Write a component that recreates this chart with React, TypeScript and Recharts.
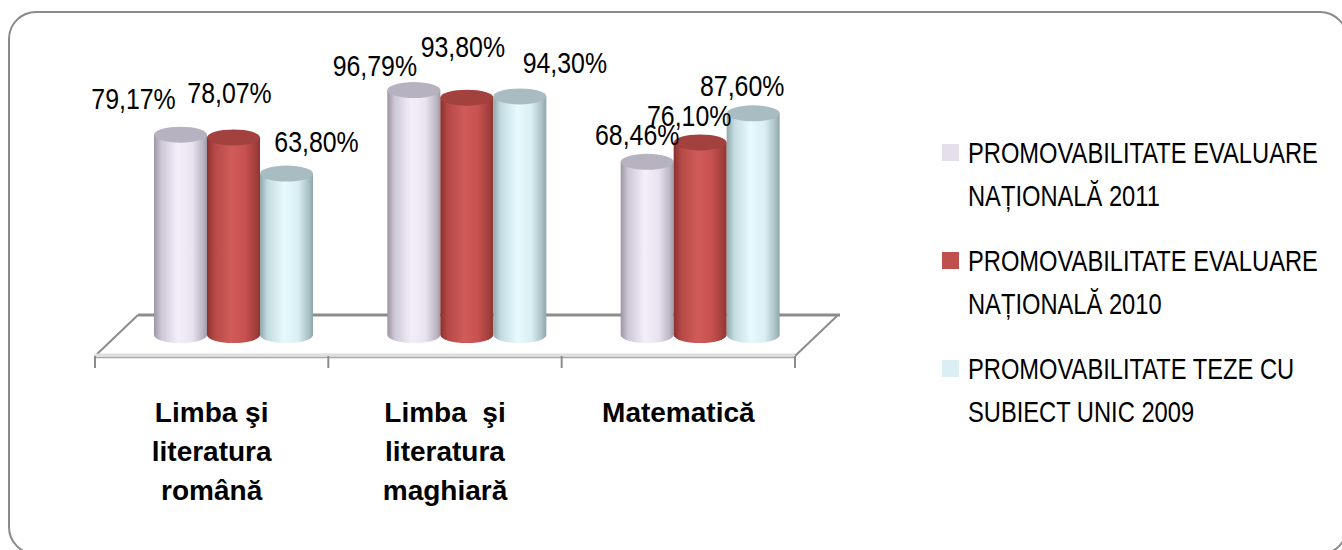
import React from 'react';
import { BarChart, Bar, XAxis, YAxis, LabelList, Legend } from 'recharts';

const categories = ['Limba şi\nliteratura\nromână', 'Limba  şi\nliteratura\nmaghiară', 'Matematică'];
const en2011 = [79.17, 96.79, 68.46];
const en2010 = [78.07, 93.8, 76.1];
const teze2009 = [63.8, 94.3, 87.6];
const seriesNames = [
  'PROMOVABILITATE EVALUARE\nNAȚIONALĂ 2011',
  'PROMOVABILITATE EVALUARE\nNAȚIONALĂ 2010',
  'PROMOVABILITATE TEZE CU\nSUBIECT UNIC 2009',
];

const data = categories.map((name, i) => ({
  name,
  s0: en2011[i],
  s1: en2010[i],
  s2: teze2009[i],
}));

// layout
const W = 1342;
const H = 550;
const PLOT_LEFT = 95;
const PLOT_RIGHT = 795;
const PLOT_TOP = 82;
const PLOT_BOTTOM = 335;
const AXIS_H = 30;
const LEGEND_W = 400;
const DEPTH_SHIFT = 22; // bars sit halfway back on the floor
const DEPTH_X = 43;
const ELLIPSE_RY = 8;

const FONT = "'Liberation Sans', Arial, sans-serif";

const SERIES = [
  {
    key: 's0',
    legend: '#E5DFEC',
    top: '#b7b2bf',
    stops: ['#9b95a4', '#cdc7d6', '#f3eff9', '#e9e3f0', '#bcb6c5', '#a09aa8'],
  },
  {
    key: 's1',
    legend: '#C0504D',
    top: '#a3413e',
    stops: ['#88312f', '#b54946', '#d05b58', '#c6514e', '#a23f3c', '#8d3431'],
  },
  {
    key: 's2',
    legend: '#DAEEF3',
    top: '#a8bcc1',
    stops: ['#91a7ac', '#c3dbe0', '#e7fafd', '#d9eff4', '#a8bfc4', '#8fa5aa'],
  },
];
const STOP_AT = ['0%', '14%', '45%', '72%', '92%', '100%'];

// Excel placed these labels a bit irregularly: [dx, dy] from the bar top
const LABEL_NUDGE = [
  [[-47, -36], [-39, -24], [-10, -27]],
  [[-4, -45], [-4, -51], [-11, -27]],
  [[30, -32], [45, -34], [-11, -28]],
];

const fmt = (v: number) => v.toFixed(2).replace('.', ',') + '%';

function Cylinder(props: any) {
  const { x, y, width, height, s } = props;
  if (width == null || height == null) return null;
  const x0 = x + DEPTH_SHIFT;
  const rx = width / 2;
  const bottom = y + height;
  const d = `M${x0},${y} L${x0},${bottom} A${rx},${ELLIPSE_RY} 0 0 0 ${x0 + width},${bottom} L${x0 + width},${y} Z`;
  return (
    <g>
      <path d={d} fill={`url(#cyl-${s})`} />
      <ellipse cx={x0 + rx} cy={y} rx={rx} ry={ELLIPSE_RY} fill={SERIES[s].top} />
    </g>
  );
}

function makeLabel(s: number) {
  return (props: any) => {
    const { x, y, width, value, index } = props;
    const [dx, dy] = LABEL_NUDGE[s][index];
    const cx = x + DEPTH_SHIFT + width / 2 + dx;
    const cy = y + dy;
    return (
      <text
        transform={`translate(${cx},${cy}) scale(0.83,1)`}
        x={0}
        y={0}
        textAnchor="middle"
        dominantBaseline="central"
        fontFamily={FONT}
        fontSize={30}
        fill="#000"
      >
        {fmt(value)}
      </text>
    );
  };
}

function CategoryTick(props: any) {
  const { x, payload } = props;
  const lines = String(payload.value).split('\n');
  return (
    <text x={x} y={422} textAnchor="middle" fontFamily={FONT} fontWeight="bold" fontSize={28} fill="#000">
      {lines.map((l: string, i: number) => (
        <tspan key={i} x={x} dy={i === 0 ? 0 : 39} style={{ whiteSpace: 'pre' }}>
          {l}
        </tspan>
      ))}
    </text>
  );
}

function LegendBox() {
  return (
    <div style={{ fontFamily: FONT, fontSize: 30, lineHeight: '43px', color: '#000' }}>
      {SERIES.map((s, i) => (
        <div key={s.key} style={{ position: 'relative', height: 86, marginBottom: 22 }}>
          <span
            style={{ position: 'absolute', left: 0, top: 13, width: 17, height: 17, background: s.legend }}
          />
          <div
            style={{
              position: 'absolute',
              left: 26,
              top: 0,
              whiteSpace: 'pre',
              transform: 'scaleX(0.79)',
              transformOrigin: 'left top',
            }}
          >
            {seriesNames[i]}
          </div>
        </div>
      ))}
    </div>
  );
}

function Floor() {
  const front = PLOT_BOTTOM + 21;
  const back = PLOT_BOTTOM - 20;
  const band = (PLOT_RIGHT - PLOT_LEFT) / categories.length;
  const ticks = [0, 1, 2, 3].map((k) => PLOT_LEFT + k * band);
  return (
    <svg width={W} height={H} style={{ position: 'absolute', left: 0, top: 0 }}>
      <line x1={PLOT_LEFT + DEPTH_X} y1={back} x2={PLOT_RIGHT + DEPTH_X + 2} y2={back} stroke="#8c8c8c" strokeWidth={3} />
      <line x1={PLOT_LEFT} y1={front} x2={PLOT_LEFT + DEPTH_X} y2={back} stroke="#8c8c8c" strokeWidth={2} />
      <line x1={PLOT_RIGHT} y1={front} x2={PLOT_RIGHT + DEPTH_X} y2={back} stroke="#8c8c8c" strokeWidth={2} />
      <line x1={PLOT_LEFT} y1={front - 1} x2={PLOT_RIGHT} y2={front - 1} stroke="#dedede" strokeWidth={3} />
      <line x1={PLOT_LEFT} y1={front + 1.5} x2={PLOT_RIGHT} y2={front + 1.5} stroke="#a6a6a6" strokeWidth={1.5} />
      {ticks.map((t) => (
        <line key={t} x1={t} y1={front} x2={t} y2={front + 12} stroke="#8c8c8c" strokeWidth={2} />
      ))}
    </svg>
  );
}

export default function App() {
  return (
    <div style={{ position: 'fixed', left: 0, top: 0, width: W, height: H, overflow: 'hidden', background: '#fff' }}>
      <div
        style={{
          position: 'absolute',
          left: 8,
          top: 11,
          width: 1340,
          height: 544,
          boxSizing: 'border-box',
          border: '2px solid #8a8a8a',
          borderRadius: 28,
        }}
      />
      <Floor />
      <div style={{ position: 'absolute', left: 0, top: 0 }}>
        <BarChart
          width={W}
          height={H}
          data={data}
          margin={{
            top: PLOT_TOP,
            right: W - PLOT_RIGHT - LEGEND_W,
            bottom: H - PLOT_BOTTOM - AXIS_H,
            left: PLOT_LEFT,
          }}
          barSize={53}
          barGap={0}
        >
          <defs>
            {SERIES.map((s, i) => (
              <linearGradient key={s.key} id={`cyl-${i}`} x1="0" y1="0" x2="1" y2="0">
                {s.stops.map((c, j) => (
                  <stop key={j} offset={STOP_AT[j]} stopColor={c} />
                ))}
              </linearGradient>
            ))}
          </defs>
          <XAxis
            dataKey="name"
            height={AXIS_H}
            axisLine={false}
            tickLine={false}
            interval={0}
            tick={<CategoryTick />}
          />
          <YAxis hide domain={[0, 100]} width={0} />
          <Legend
            layout="vertical"
            align="right"
            verticalAlign="top"
            content={<LegendBox />}
            wrapperStyle={{ position: 'absolute', left: 942, top: 131, width: LEGEND_W, margin: 0 }}
          />
          {SERIES.map((s, i) => (
            <Bar
              key={s.key}
              dataKey={s.key}
              name={seriesNames[i]}
              fill={s.legend}
              isAnimationActive={false}
              shape={(p: any) => <Cylinder {...p} s={i} />}
            >
              <LabelList dataKey={s.key} content={makeLabel(i)} />
            </Bar>
          ))}
        </BarChart>
      </div>
    </div>
  );
}
